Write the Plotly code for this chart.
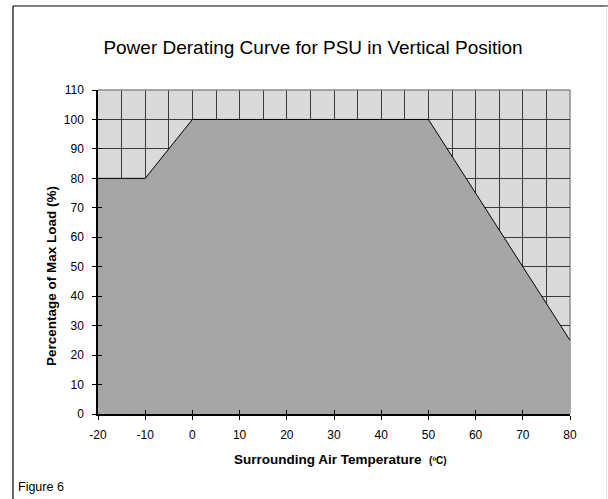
import plotly.graph_objects as go

# Data
temperature = [-20, -10, 0, 50, 80]
max_load_pct = [80, 80, 100, 100, 25]
x_ticks = [-20, -10, 0, 10, 20, 30, 40, 50, 60, 70, 80]
y_ticks = [0, 10, 20, 30, 40, 50, 60, 70, 80, 90, 100, 110]

W, H = 608, 499
L, R, T, B = 98, 38, 90, 85
pw, ph = W - L - R, H - T - B

def px2paper_x(px):
    return (px - L) / pw

def px2paper_y(py):
    return (H - B - py) / ph

FONT = "Liberation Sans, Arial, sans-serif"
GRID = "#3a3a3a"

fig = go.Figure()
fig.add_trace(go.Scatter(
    x=temperature, y=max_load_pct, mode="lines",
    fill="tozeroy", fillcolor="#a6a6a6",
    line=dict(color="#000000", width=1),
    hoverinfo="x+y", showlegend=False,
))
# empty trace to create overlay axes (inside tick halves)
fig.add_trace(go.Scatter(x=[], y=[], xaxis="x2", yaxis="y2", showlegend=False))

axis_common = dict(
    showline=True, linecolor="#000000", linewidth=1.5,
    ticks="outside", ticklen=4, tickwidth=1, tickcolor="#000000",
    tickfont=dict(family=FONT, size=12, color="#000000"),
    zeroline=False,
)

fig.update_layout(
    width=W, height=H,
    margin=dict(l=L, r=R, t=T, b=B),
    paper_bgcolor="#ffffff",
    plot_bgcolor="#d9d9d9",
    font=dict(family=FONT, color="#000000"),
    title=dict(
        text="Power Derating Curve for PSU in Vertical Position",
        x=313 / W, xref="container", xanchor="center",
        y=1 - 47 / H, yref="container", yanchor="middle",
        font=dict(family=FONT, size=19, color="#000000"),
    ),
    xaxis=dict(
        range=[-20, 80], tickmode="array", tickvals=x_ticks,
        ticktext=[str(v) for v in x_ticks],
        showgrid=True, gridcolor=GRID, gridwidth=1,
        minor=dict(dtick=5, tick0=0, showgrid=True, gridcolor=GRID, gridwidth=1),
        ticklabelstandoff=5,
        **axis_common,
    ),
    yaxis=dict(
        range=[0, 110], tickmode="array", tickvals=y_ticks,
        ticktext=[str(v) for v in y_ticks],
        showgrid=True, gridcolor=GRID, gridwidth=1,
        ticklabelstandoff=6,
        **axis_common,
    ),
    xaxis2=dict(
        overlaying="x", range=[-20, 80], tickmode="array", tickvals=x_ticks,
        showticklabels=False, showgrid=False, zeroline=False, showline=False,
        ticks="inside", ticklen=4, tickwidth=1, tickcolor="#000000", anchor="y2",
    ),
    yaxis2=dict(
        overlaying="y", range=[0, 110], tickmode="array", tickvals=y_ticks,
        showticklabels=False, showgrid=False, zeroline=False, showline=False,
        ticks="inside", ticklen=4, tickwidth=1, tickcolor="#000000", anchor="x2",
    ),
    annotations=[
        dict(text="<b>Surrounding Air Temperature </b> <span style='font-size:10px'><b>(ºC)</b></span>",
             xref="paper", yref="paper", x=px2paper_x(340), y=px2paper_y(459),
             xanchor="center", yanchor="middle", showarrow=False,
             font=dict(family=FONT, size=13.5, color="#000000")),
        dict(text="<b>Percentage of Max Load (%)</b>",
             xref="paper", yref="paper", x=px2paper_x(51), y=px2paper_y(276),
             xanchor="center", yanchor="middle", textangle=-90, showarrow=False,
             font=dict(family=FONT, size=13.5, color="#000000")),
        dict(text="Figure 6", xref="paper", yref="paper",
             x=px2paper_x(16), y=px2paper_y(487), xanchor="left", yanchor="middle",
             showarrow=False, font=dict(family=FONT, size=12.5, color="#000000")),
    ],
    shapes=[
        # plot-area border (top & right in gray)
        dict(type="line", xref="paper", yref="paper", x0=0, x1=1, y0=1, y1=1,
             line=dict(color="#8c8c8c", width=1.5), layer="above"),
        dict(type="line", xref="paper", yref="paper", x0=1, x1=1, y0=0, y1=1,
             line=dict(color="#8c8c8c", width=1.5), layer="below"),
        # page frame
        dict(type="line", xref="paper", yref="paper",
             x0=px2paper_x(13), x1=px2paper_x(13), y0=px2paper_y(6), y1=px2paper_y(499),
             line=dict(color="#000000", width=1.2)),
        dict(type="line", xref="paper", yref="paper",
             x0=px2paper_x(13), x1=px2paper_x(608), y0=px2paper_y(6), y1=px2paper_y(6),
             line=dict(color="#000000", width=1.2)),
        dict(type="line", xref="paper", yref="paper",
             x0=px2paper_x(606.5), x1=px2paper_x(606.5), y0=px2paper_y(6), y1=px2paper_y(499),
             line=dict(color="#e6e6e6", width=1)),
    ],
)

fig.write_html("out.html",
               config={"displayModeBar": False},
               post_script="document.body.style.margin='0';document.body.style.overflow='hidden';")
